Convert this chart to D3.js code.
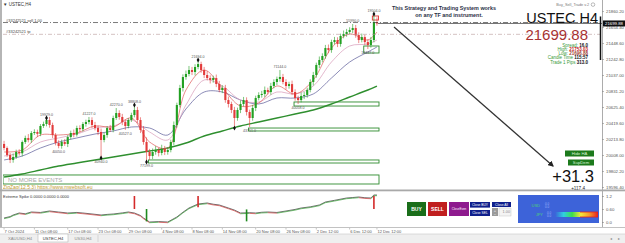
<!DOCTYPE html>
<html>
<head>
<meta charset="utf-8">
<script src="https://cdn.jsdelivr.net/npm/d3@7"></script>
<style>
  body { margin: 0; background: #fff; overflow: hidden; }
  svg { display: block; font-family: "Liberation Sans", Arial, sans-serif; }
</style>
</head>
<body>
<div id="chart"></div>
<script>
// (DATA) USTEC H4 closes, one bar per ~2 real H4 bars
var closes = [20098, 20008, 19944, 19982, 20047, 20030, 20175, 20227, 20200, 20291, 20304, 20280,
  20381, 20407, 20458, 20394, 20265, 20162, 20124, 20175, 20150, 20239, 20291, 20270,
  20355, 20340, 20407, 20432, 20458, 20394, 20355, 20304, 20201, 20265, 20355, 20330,
  20484, 20548, 20497, 20432, 20381, 20458, 20522, 20587, 20458, 20330, 20175, 20047,
  19995, 20047, 20072, 20034, 20085, 20047, 20072, 20175, 20394, 20651, 20870, 21011,
  21050, 21101, 21076, 21140, 21178, 21101, 21037, 20998, 20973, 20998, 20921, 20844,
  20870, 20715, 20664, 20587, 20484, 20587, 20664, 20715, 20561, 20484, 20613, 20741,
  20780, 20793, 20844, 20818, 20896, 20947, 20986, 21011, 20947, 20896, 20920, 20818,
  20741, 20715, 20767, 20780, 20844, 20947, 21037, 21166, 21230, 21281, 21384, 21358,
  21461, 21487, 21436, 21539, 21564, 21590, 21616, 21641, 21551, 21487, 21525, 21461,
  21423, 21487, 21719, 21699.88];
var firstOpen = 20150;

// upper / lower wick length in points
var hiWick = [40,20,25,45,30,35,20,30,50,25,35,30,
  25,30,26,40,30,25,35,30,40,25,30,45,
  30,35,25,30,39,35,40,30,45,30,25,40,
  30,64,35,40,30,25,30,64,40,35,50,60,
  40,45,50,30,55,40,35,30,45,30,40,35,
  45,52,40,35,52,30,40,50,35,30,45,40,
  35,40,45,30,40,30,45,40,35,30,40,30,
  35,40,45,30,40,35,30,90,40,35,30,45,
  35,30,45,40,30,35,40,30,45,35,40,45,
  30,40,35,30,45,40,35,52,40,35,45,30,
  35,40,103,60];
var loWick = [30,25,40,35,25,30,40,25,30,35,25,40,
  30,25,30,35,40,30,30,35,25,40,30,35,
  25,40,30,35,30,35,30,40,230,30,35,25,
  30,25,35,40,50,30,25,30,35,40,35,130,
  51,40,35,45,30,40,35,30,40,35,30,45,
  35,30,40,45,30,35,40,30,45,35,40,30,
  40,35,45,40,130,35,40,30,45,116,35,40,
  30,35,40,30,35,30,40,35,30,45,35,40,
  35,51,30,40,35,30,45,35,40,30,35,40,
  35,30,40,35,30,35,30,40,35,40,30,35,
  52,35,30,30];

// moving averages, sampled every 6 bars
var maIdx  = [0,6,12,18,24,30,36,42,48,54,60,66,72,78,84,90,96,102,108,114,120,123];
var maFast = [20047,20072,20265,20265,20291,20381,20368,20484,20175,20098,20844,21101,20870,20638,20677,20896,20793,20973,21384,21564,21487,21590];
var maMid  = [19995,20047,20175,20227,20278,20355,20381,20458,20304,20201,20651,20973,20896,20715,20690,20818,20793,20896,21204,21410,21436,21487];
var maSlow = [19944,19995,20098,20175,20227,20278,20317,20368,20355,20265,20600,20818,20818,20715,20664,20741,20741,20793,20998,21204,21333,21397];
var maLong = [19725,19764,19815,19866,19905,19944,19982,20021,20059,20098,20162,20252,20317,20381,20432,20484,20535,20587,20664,20754,20844,20895];

// zigzag swing points
var zzIdx  = [14, 18, 28, 32, 37, 40, 43, 47, 64, 76, 81, 91, 97, 115, 120, 122];
var zzType = ["h","l","h","l","h","l","h","l","h","l","l","h","l","h","l","h"];
var zzText = ["19929.0","40050.0","41227.0","40940.0","42270.0","40527.0","38808.0","77199.0","21694.0","","43751.0","71144.0","40058.0","55990.0","18437.0","19504.0"];
var zzMark = [1,0,0,1,0,0,1,1,1,1,0,0,0,0,0,1];

// supply / demand zones
var zoneFrom = [96, 81, 48, 0, 119];
var zoneTop  = [20690, 20355, 19944, 19751, 21410];
var zoneBot  = [20638, 20317, 19905, 19635, 21320];

// order lines
var bidPrice = 21699.88;
var sellPrice = 21712;
var tpPrice = 21560;

// price axis ticks
var priceTicks = [21860.20, 21654.40, 21448.60, 21242.80, 21037.00, 20831.20, 20625.40, 20419.60, 20213.80, 20008.00, 19802.20, 19596.40];

// time axis
var timeIdx = [0, 10, 21, 31, 41, 52, 62, 72, 83, 93, 103, 114, 123];
var timeLabels = ["7 Oct 2024", "11 Oct 08:00", "17 Oct 08:00", "23 Oct 08:00", "29 Oct 08:00", "4 Nov 08:00", "8 Nov 08:00",
  "14 Nov 08:00", "20 Nov 08:00", "26 Nov 08:00", "2 Dec 12:00", "6 Dec 12:00", "12 Dec 12:00"];

// Extreme Spike indicator
var spikeIdx = [0,2,3,5,7,9,12,15,18,21,24,26,29,32,34,36,39,41,43,45,46,48,51,54,57,59,61,64,67,69,
  71,74,76,78,81,83,85,87,90,93,96,98,101,104,106,109,113,115,117,119,121,122,123];
var spikeVal = [0.185,0.25,0.323,0.415,0.38,0.462,0.44,0.508,0.46,0.415,0.44,0.415,0.37,0.323,0.35,0.369,0.42,0.462,0.415,0.3,
  0.185,0.0,0.02,0.0,0.231,0.45,0.646,0.831,0.877,0.82,0.785,0.646,0.55,0.415,0.43,0.415,0.45,0.462,0.44,0.508,
  0.58,0.646,0.7,0.785,0.923,1.0,1.108,1.13,1.154,1.12,1.108,1.246,1.246];
var spikeBarIdx = [43, 47, 64, 80, 122];
var spikeBarTop = [1.2, 0.6, 1.2, 0.58, 1.2];
var spikeBarBot = [0.6, 0.03, 0.68, 0.03, 0.6];
var spikeBarUp  = [false, true, false, true, false];
var subTicks = [1.2, 0.6, 0.0];
var subTickText = ["1.2", "0.60", "0.0"];

function init () {

    // (VARIABLES)
    var w = 625;
    var h = 243;
    var axisX = 602;
    var mainBot = 189;
    var green = "#22a022";
    var red = "#e23b3b";

    var svg = d3.select("#chart").append("svg")
        .attr("width", w)
        .attr("height", h);

    var defs = svg.append("defs");
    defs.append("clipPath").attr("id", "mainClip")
        .append("rect").attr("x", 3).attr("y", 0).attr("width", axisX - 3).attr("height", mainBot);
    defs.append("marker").attr("id", "arrowHead")
        .attr("viewBox", "0 0 10 10").attr("refX", 8).attr("refY", 5)
        .attr("markerWidth", 5).attr("markerHeight", 5).attr("orient", "auto")
        .append("path").attr("d", "M0,0 L10,5 L0,10 z").attr("fill", "#222");
    var grad = defs.append("linearGradient").attr("id", "heat");
    ["#3a62d8", "#2fd0e0", "#3ce04a", "#f4e83a", "#f59a2a", "#e52020"].forEach(function(c, i) {
        grad.append("stop").attr("offset", (i / 5 * 100) + "%").attr("stop-color", c);
    });

    // (SCALES)
    var xScale = d3.scaleBand()
        .domain(d3.range(closes.length))
        .range([3, 378])
        .paddingInner(0.3);
    var bw = xScale.bandwidth();
    function cx(i) { return xScale(i) + bw / 2; }

    var yScale = d3.scaleLinear()
        .domain([19596.4, 21654.4])
        .range([187, 27]);

    var subY = d3.scaleLinear()
        .domain([0, 1.2])
        .range([222, 196]);

    // (BARS) build OHLC from closes and wick arrays
    var bars = closes.map(function(c, i) {
        var o = i === 0 ? firstOpen : closes[i - 1];
        return { i: i, o: o, c: c, hi: Math.max(o, c) + hiWick[i], lo: Math.min(o, c) - loWick[i] };
    });

    // (FRAME)
    svg.append("rect").attr("x", 0).attr("y", 0).attr("width", w).attr("height", h).attr("fill", "#fff");
    svg.append("rect").attr("x", 0).attr("y", 0).attr("width", 2).attr("height", 227).attr("fill", "#b5b5b5");

    var main = svg.append("g").attr("clip-path", "url(#mainClip)");

    // (ZONES)
    var zoneRight = xScale(closes.length - 1) + bw + 1;
    zoneFrom.forEach(function(f, k) {
        main.append("rect")
            .attr("x", xScale(f))
            .attr("y", yScale(zoneTop[k]))
            .attr("width", zoneRight - xScale(f))
            .attr("height", yScale(zoneBot[k]) - yScale(zoneTop[k]))
            .attr("fill", "none")
            .attr("stroke", "#2e8b2e")
            .attr("stroke-width", 0.9);
    });
    main.append("rect")
        .attr("x", xScale(122) - 0.5).attr("y", yScale(21796))
        .attr("width", zoneRight - xScale(122)).attr("height", yScale(21744) - yScale(21796))
        .attr("fill", "none").attr("stroke", "#e03030").attr("stroke-width", 0.9);

    main.append("text").attr("x", 8).attr("y", 181.5)
        .attr("font-size", 6).attr("fill", "#a8a8a8").text("NO MORE EVENTS");
    main.append("text").attr("x", 3).attr("y", 189)
        .attr("font-size", 5).attr("fill", "#c39a2e").text("ZigZag(12,5,3) https://www.mwebsoft.eu");

    // (MOVING AVERAGES)
    var maLine = function(vals) {
        return d3.line()
            .x(function(d, k) { return cx(maIdx[k]); })
            .y(function(d) { return yScale(d); })
            .curve(d3.curveCatmullRom)(vals);
    };
    main.append("path").attr("d", maLine(maLong)).attr("fill", "none").attr("stroke", "#2f8f2f").attr("stroke-width", 1.4);
    main.append("path").attr("d", maLine(maSlow)).attr("fill", "none").attr("stroke", "#5a5a98").attr("stroke-width", 0.7);
    main.append("path").attr("d", maLine(maMid)).attr("fill", "none").attr("stroke", "#d79ab8").attr("stroke-width", 0.7);
    main.append("path").attr("d", maLine(maFast)).attr("fill", "none").attr("stroke", "#e05a5a").attr("stroke-width", 0.7);

    // (CANDLES)
    var candle = main.selectAll(".candle")
        .data(bars)
        .enter()
        .append("g")
        .attr("class", "candle");
    candle.append("line")
        .attr("x1", function(d) { return cx(d.i); })
        .attr("x2", function(d) { return cx(d.i); })
        .attr("y1", function(d) { return yScale(d.hi); })
        .attr("y2", function(d) { return yScale(d.lo); })
        .attr("stroke", function(d) { return d.c >= d.o ? green : red; })
        .attr("stroke-width", 0.6);
    candle.append("rect")
        .attr("x", function(d) { return xScale(d.i); })
        .attr("y", function(d) { return yScale(Math.max(d.o, d.c)); })
        .attr("width", bw)
        .attr("height", function(d) { return Math.max(0.8, Math.abs(yScale(d.o) - yScale(d.c))); })
        .attr("fill", function(d) { return d.c >= d.o ? green : red; });

    // (ZIGZAG) markers and labels
    zzIdx.forEach(function(i, k) {
        var b = bars[i];
        var isHigh = zzType[k] === "h";
        var y = yScale(isHigh ? b.hi : b.lo);
        if (zzMark[k]) {
            main.append("path")
                .attr("d", d3.symbol().type(d3.symbolDiamond).size(7)())
                .attr("transform", "translate(" + cx(i) + "," + y + ")")
                .attr("fill", "#111");
        }
        if (zzText[k]) {
            main.append("text")
                .attr("x", cx(i))
                .attr("y", isHigh ? y - 2 : y + 5)
                .attr("text-anchor", "middle")
                .attr("font-size", 3.6)
                .attr("fill", "#555")
                .text(zzText[k]);
        }
    });

    // (ORDER LINES)
    main.append("line").attr("x1", 3).attr("x2", axisX).attr("y1", yScale(sellPrice)).attr("y2", yScale(sellPrice))
        .attr("stroke", "#444").attr("stroke-width", 0.7).attr("stroke-dasharray", "5,2,1,2");
    main.append("line").attr("x1", 378).attr("x2", axisX).attr("y1", yScale(bidPrice)).attr("y2", yScale(bidPrice))
        .attr("stroke", "#333").attr("stroke-width", 0.7);
    main.append("line").attr("x1", 3).attr("x2", axisX).attr("y1", yScale(tpPrice)).attr("y2", yScale(tpPrice))
        .attr("stroke", "#b89a9a").attr("stroke-width", 0.6).attr("stroke-dasharray", "4,2,1,2");
    main.append("text").attr("x", 6).attr("y", yScale(sellPrice) - 1).attr("font-size", 4).attr("fill", "#444").text("#33242521 sell 1.00");
    main.append("text").attr("x", 6).attr("y", yScale(tpPrice) - 1).attr("font-size", 4).attr("fill", "#444").text("#33242521 tp");

    // (ARROW)
    svg.append("line").attr("x1", 394).attr("y1", 27).attr("x2", 553).attr("y2", 166)
        .attr("stroke", "#333").attr("stroke-width", 1.2).attr("marker-end", "url(#arrowHead)");

    // (TEXT PANEL)
    svg.append("text").attr("x", 3).attr("y", 6).attr("font-size", 4.5).attr("fill", "#333").text("\u25BC USTEC,H4");
    svg.append("text").attr("x", 589).attr("y", 6).attr("text-anchor", "end").attr("font-size", 3.8).attr("fill", "#777").text("Buy_Sell_Trade v.2");
    svg.append("circle").attr("cx", 593).attr("cy", 4.6).attr("r", 1.8).attr("fill", "none").attr("stroke", "#777").attr("stroke-width", 0.5);

    svg.append("text").attr("x", 444).attr("y", 10).attr("text-anchor", "middle")
        .attr("font-size", 5.4).attr("font-weight", "bold").attr("fill", "#2a2f45")
        .text("This Strategy and Trading System works");
    svg.append("text").attr("x", 449).attr("y", 17).attr("text-anchor", "middle")
        .attr("font-size", 5.4).attr("font-weight", "bold").attr("fill", "#2a2f45")
        .text("on any TF and instrument.");

    svg.append("text").attr("x", 598).attr("y", 22.5).attr("text-anchor", "end")
        .attr("font-size", 14.5).attr("fill", "#111").text("USTEC H4");
    svg.append("text").attr("x", 588).attr("y", 39.5).attr("text-anchor", "end")
        .attr("font-size", 15).attr("fill", "#a83232").text("21699.88");

    var info = [["Spread: ", "16.0", "#111", 47.3], ["High: ", "21753.03", "#c02020", 51.3],
                ["Low: ", "21696.88", "#a04030", 55.3], ["Candle Time ", "115:57", "#111", 59.3],
                ["Trade 1 Pips ", "313.0", "#111", 63.5]];
    info.forEach(function(r) {
        var t = svg.append("text").attr("x", 588).attr("y", r[3]).attr("text-anchor", "end").attr("font-size", 4.5);
        t.append("tspan").attr("fill", "#3a9a3a").text(r[0]);
        t.append("tspan").attr("fill", r[2]).attr("font-weight", "bold").text(r[1]);
    });

    svg.append("rect").attr("x", 565).attr("y", 150.5).attr("width", 29).attr("height", 6).attr("fill", "#1c7a1c");
    svg.append("text").attr("x", 579.5).attr("y", 155.2).attr("text-anchor", "middle").attr("font-size", 4.2).attr("fill", "#d8f5d8").text("Hide HA");
    svg.append("rect").attr("x", 568).attr("y", 159.5).attr("width", 26).attr("height", 6).attr("fill", "#1c7a1c");
    svg.append("text").attr("x", 581).attr("y", 164.2).attr("text-anchor", "middle").attr("font-size", 4.2).attr("fill", "#d8f5d8").text("SupDem");

    svg.append("text").attr("x", 594).attr("y", 181.5).attr("text-anchor", "end").attr("font-size", 16.5).attr("fill", "#111").text("+31.3");
    svg.append("text").attr("x", 585).attr("y", 189.6).attr("text-anchor", "end").attr("font-size", 4.6).attr("fill", "#222").text("+117.4");

    // (PRICE AXIS)
    svg.append("g")
        .attr("class", "y axis")
        .attr("transform", "translate(" + axisX + ",0)")
        .call(d3.axisRight(yScale).tickValues(priceTicks).tickFormat(d3.format(".2f")).tickSize(2))
        .call(function(g) { g.select(".domain").remove(); })
        .call(function(g) { g.selectAll("text").attr("font-size", 4.3).attr("fill", "#555").attr("x", 4).attr("font-family", "Liberation Sans, Arial"); })
        .call(function(g) { g.selectAll("line").attr("stroke", "#777").attr("stroke-width", 0.5); });
    svg.append("line").attr("x1", axisX + 0.5).attr("x2", axisX + 0.5).attr("y1", 0).attr("y2", 227).attr("stroke", "#888").attr("stroke-width", 0.7);
    svg.append("line").attr("x1", 600.5).attr("x2", 600.5).attr("y1", yScale(21790)).attr("y2", yScale(21230)).attr("stroke", "#111").attr("stroke-width", 1.5);
    svg.append("rect").attr("x", axisX + 1).attr("y", yScale(bidPrice) - 3).attr("width", 22).attr("height", 6).attr("fill", "#111");
    svg.append("text").attr("x", axisX + 3).attr("y", yScale(bidPrice) + 1.6).attr("font-size", 4.3).attr("fill", "#fff").text("21699.88");

    // (SUBWINDOW)
    svg.append("rect").attr("x", 0).attr("y", 189.5).attr("width", w).attr("height", 1.8).attr("fill", "#a9a9a9");
    svg.append("line").attr("x1", 0).attr("x2", w).attr("y1", 227.5).attr("y2", 227.5).attr("stroke", "#999").attr("stroke-width", 0.6);
    svg.append("text").attr("x", 3).attr("y", 197.5).attr("font-size", 4).attr("fill", "#333").text("Extreme Spike 0.0000 0.0000 0.0000");

    var spikeLine = d3.line()
        .x(function(d, k) { return cx(spikeIdx[k]); })
        .y(function(d) { return subY(d); });
    svg.append("path").attr("d", spikeLine(spikeVal)).attr("fill", "none").attr("stroke", "#333").attr("stroke-width", 0.7);
    for (var k = 1; k < spikeVal.length; k++) {
        svg.append("line")
            .attr("x1", cx(spikeIdx[k - 1])).attr("y1", subY(spikeVal[k - 1]) + 0.7)
            .attr("x2", cx(spikeIdx[k])).attr("y2", subY(spikeVal[k]) + 0.7)
            .attr("stroke", spikeVal[k] >= spikeVal[k - 1] ? "#3aa03a" : "#d04040")
            .attr("stroke-width", 0.7);
    }
    spikeBarIdx.forEach(function(i, k) {
        svg.append("line")
            .attr("x1", cx(i)).attr("x2", cx(i))
            .attr("y1", subY(spikeBarTop[k])).attr("y2", subY(spikeBarBot[k]))
            .attr("stroke", spikeBarUp[k] ? "#1f8a1f" : "#d42a2a")
            .attr("stroke-width", 1.6);
    });

    svg.append("g")
        .attr("transform", "translate(" + axisX + ",0)")
        .call(d3.axisRight(subY).tickValues(subTicks).tickFormat(function(d, k) { return subTickText[k]; }).tickSize(2))
        .call(function(g) { g.select(".domain").remove(); })
        .call(function(g) { g.selectAll("text").attr("font-size", 4.3).attr("fill", "#555").attr("x", 4).attr("font-family", "Liberation Sans, Arial"); })
        .call(function(g) { g.selectAll("line").attr("stroke", "#777").attr("stroke-width", 0.5); });

    // (TRADE BUTTONS)
    var btn = function(x, y, bw2, bh, fill, label, fs, bold) {
        svg.append("rect").attr("x", x).attr("y", y).attr("width", bw2).attr("height", bh).attr("fill", fill);
        svg.append("text").attr("x", x + bw2 / 2).attr("y", y + bh / 2 + fs * 0.36)
            .attr("text-anchor", "middle").attr("font-size", fs).attr("fill", "#fff")
            .attr("font-weight", bold ? "bold" : "normal").text(label);
    };
    btn(407, 202, 19, 14, "#1a6e1a", "BUY", 5, true);
    btn(428, 202, 19, 14, "#c01f1f", "SELL", 5, true);
    btn(449, 202, 20, 14, "#8e1a8e", "CloseEven", 3, false);
    btn(470, 202, 20, 5.6, "#0f1f8c", "Close BUY", 3.3, false);
    btn(470, 210, 20, 6, "#0f1f8c", "Close SEL", 3.3, false);
    btn(492, 202, 19, 5, "#0f1f8c", "Close All", 3.3, false);
    svg.append("rect").attr("x", 492).attr("y", 208).attr("width", 6).attr("height", 8).attr("fill", "#9a9a9a");
    svg.append("text").attr("x", 495).attr("y", 211.5).attr("text-anchor", "middle").attr("font-size", 4).attr("fill", "#fff").text("+");
    svg.append("text").attr("x", 495).attr("y", 215.5).attr("text-anchor", "middle").attr("font-size", 4).attr("fill", "#fff").text("\u2212");
    svg.append("rect").attr("x", 499).attr("y", 208).attr("width", 12).attr("height", 8).attr("fill", "#f4f4f4").attr("stroke", "#bbb").attr("stroke-width", 0.4);
    svg.append("text").attr("x", 510).attr("y", 213.3).attr("text-anchor", "end").attr("font-size", 3.8).attr("fill", "#888").text("1.00");

    // (STRENGTH PANEL)
    svg.append("rect").attr("x", 518).attr("y", 195).attr("width", 81).attr("height", 28).attr("fill", "#3d63d9");
    svg.append("text").attr("x", 540).attr("y", 206.5).attr("text-anchor", "end").attr("font-size", 4).attr("fill", "#4cd070").text("USD");
    svg.append("text").attr("x", 543).attr("y", 215.5).attr("text-anchor", "end").attr("font-size", 4).attr("fill", "#4cd070").text("JPY");
    [[545, 204.5], [545, 207.5], [547, 213.5], [547, 216.5]].forEach(function(p) {
        svg.append("text").attr("x", p[0]).attr("y", p[1]).attr("font-size", 3).attr("fill", "#9fb5ff").text("0.0");
    });
    svg.append("rect").attr("x", 555).attr("y", 212).attr("width", 43).attr("height", 5).attr("fill", "url(#heat)");
    svg.append("line").attr("x1", 580).attr("x2", 598).attr("y1", 212).attr("y2", 212).attr("stroke", "#e52020").attr("stroke-width", 0.8);
    svg.append("line").attr("x1", 580).attr("x2", 598).attr("y1", 217).attr("y2", 217).attr("stroke", "#e52020").attr("stroke-width", 0.8);

    // (TIME AXIS)
    svg.append("g")
        .attr("class", "x axis")
        .attr("transform", "translate(0,228)")
        .call(d3.axisBottom(xScale).tickValues(timeIdx).tickFormat(function(d, k) { return timeLabels[k]; }).tickSize(1.5))
        .call(function(g) { g.select(".domain").remove(); })
        .call(function(g) { g.selectAll("text").attr("font-size", 4).attr("fill", "#555").attr("text-anchor", "start").attr("x", 0.5).attr("y", 1.8).attr("font-family", "Liberation Sans, Arial"); })
        .call(function(g) { g.selectAll("line").attr("stroke", "#888").attr("stroke-width", 0.5); });

    // (TABS)
    svg.append("rect").attr("x", 0).attr("y", 234).attr("width", w).attr("height", 9).attr("fill", "#efefef");
    svg.append("line").attr("x1", 0).attr("x2", w).attr("y1", 234).attr("y2", 234).attr("stroke", "#c8c8c8").attr("stroke-width", 0.6);
    svg.append("rect").attr("x", 38).attr("y", 234).attr("width", 30).attr("height", 8).attr("fill", "#fff").attr("stroke", "#aaa").attr("stroke-width", 0.5);
    [["XAUUSD,H4", 20], ["USTEC,H4", 53], ["US30,H4", 83]].forEach(function(t) {
        svg.append("text").attr("x", t[1]).attr("y", 240).attr("text-anchor", "middle").attr("font-size", 4.2)
            .attr("fill", t[0] === "USTEC,H4" ? "#333" : "#888").text(t[0]);
    });
    svg.append("line").attr("x1", 98).attr("x2", 98).attr("y1", 235).attr("y2", 242).attr("stroke", "#bbb").attr("stroke-width", 0.5);
    svg.append("text").attr("x", 611).attr("y", 240).attr("text-anchor", "middle").attr("font-size", 4).attr("fill", "#888").text("\u25C2");
    svg.append("text").attr("x", 619).attr("y", 240).attr("text-anchor", "middle").attr("font-size", 4).attr("fill", "#888").text("\u25B8");
}

window.onload = init;
</script>
</body>
</html>
